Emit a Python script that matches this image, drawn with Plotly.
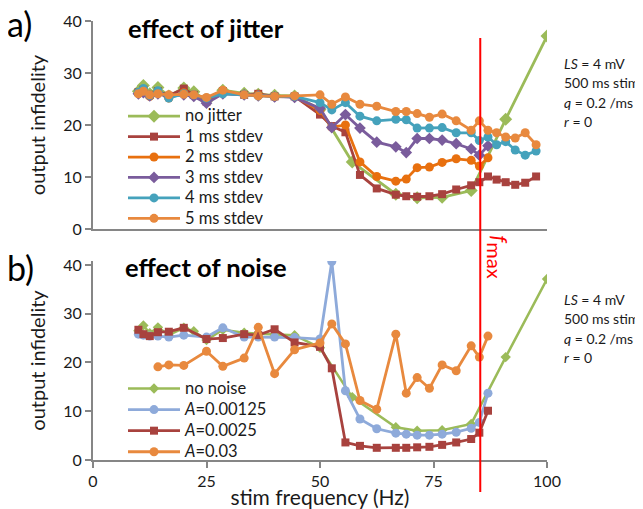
import plotly.graph_objects as go

# ---------------- data ----------------
F_LEFT = [10, 11.1, 12.5, 14.3, 16.7, 20, 22.2, 25, 28.6, 33.3, 36.4, 40, 44.4, 50]
F_RIGHT = [52.6, 55.6, 58.8, 62.5, 66.7, 69.0, 71.4, 74.1, 76.9, 80.0, 83.3, 85.1, 87.0,
           88.9, 90.9, 93.0, 95.2, 97.6]
F_MAX = 85.3

# no jitter / no noise (shared)
F_NONE = [10, 11.1, 12.5, 14.3, 16.7, 20, 22.2, 25, 28.6, 33.3, 36.4, 40, 44.4, 50,
          57.1, 66.7, 71.4, 76.9, 83.3, 90.9, 100]
V_NONE = [26.5, 27.6, 26.0, 27.2, 25.6, 27.1, 26.4, 24.6, 26.7, 26.1, 25.9, 25.7, 25.6, 23.0,
          12.9, 6.7, 6.0, 6.1, 7.4, 21.1, 37.1]

# jitter series
F_J1 = F_LEFT + F_RIGHT
V_J1 = [26.3, 26.8, 25.8, 26.5, 25.6, 27.0, 25.8, 24.5, 26.5, 25.8, 26.0, 25.5, 25.5, 22.0,
        19.8, 18.6, 10.4, 7.8, 6.6, 6.3, 6.2, 6.3, 6.7, 7.6, 8.4, 9.0, 10.1, 9.5, 9.0, 8.5, 8.9, 10.1]
F_J2 = F_LEFT + F_RIGHT[:13]
V_J2 = [26.2, 26.5, 25.5, 26.3, 25.2, 26.2, 25.8, 24.8, 26.2, 25.8, 25.8, 25.4, 25.5, 22.8,
        19.6, 20.0, 12.9, 10.1, 9.2, 9.6, 11.8, 11.9, 12.8, 13.5, 13.2, 12.1, 13.7]
F_J3 = F_LEFT + F_RIGHT[:13]
V_J3 = [26.0, 26.2, 25.6, 26.0, 25.5, 25.8, 25.5, 24.2, 26.0, 25.8, 25.6, 25.4, 25.3, 23.2,
        19.5, 22.0, 19.4, 16.7, 15.8, 14.7, 17.4, 17.4, 17.1, 16.4, 15.4, 14.2, 16.0]
F_J4 = F_LEFT + F_RIGHT
V_J4 = [26.3, 27.0, 25.7, 26.6, 25.2, 26.0, 25.8, 25.2, 26.0, 25.8, 25.6, 25.5, 25.5, 24.3,
        22.9, 24.3, 21.7, 20.8, 21.1, 21.0, 19.4, 19.4, 19.5, 18.5, 18.5, 17.0, 17.7, 16.2, 16.8,
        15.2, 14.2, 15.0]
F_J5 = F_LEFT + F_RIGHT
V_J5 = [26.0, 26.5, 25.8, 26.0, 25.8, 25.9, 25.8, 25.3, 26.7, 25.8, 25.6, 25.5, 25.6, 25.8,
        24.0, 25.4, 24.0, 23.6, 22.6, 22.6, 22.2, 21.5, 22.1, 20.8, 19.0, 20.8, 19.0, 18.5, 17.7,
        17.5, 18.5, 16.2]

# noise series
F_A1 = [10, 11.1, 12.5, 14.3, 16.7, 20, 25, 28.6, 33.3, 36.4, 40, 44.4, 50] + F_RIGHT[:13]
V_A1 = [25.8, 25.6, 25.4, 25.4, 25.2, 25.6, 25.2, 27.1, 25.2, 25.2, 25.2, 25.1, 24.8,
        40.7, 14.2, 8.4, 6.4, 5.5, 5.3, 5.1, 5.1, 5.3, 5.7, 6.5, 7.7, 13.7]
F_A2 = [10, 11.1, 12.5, 14.3, 16.7, 20, 25, 28.6, 33.3, 36.4, 40, 44.4, 50] + F_RIGHT[:13]
V_A2 = [26.7, 25.8, 25.4, 26.2, 26.3, 27.1, 24.8, 25.0, 25.8, 25.6, 26.8, 24.1, 23.2,
        18.8, 3.6, 2.9, 2.5, 2.5, 2.5, 2.6, 2.7, 3.1, 3.6, 4.3, 5.6, 10.1]
F_A3 = [14.3, 16.7, 20, 25, 28.6, 33.3, 36.4, 40, 44.4, 50] + F_RIGHT[:13]
V_A3 = [19.1, 19.5, 19.4, 22.3, 19.2, 20.9, 27.2, 17.7, 22.6, 24.0,
        27.9, 23.8, 12.2, 10.4, 25.8, 13.7, 16.9, 14.7, 19.5, 18.3, 23.4, 21.1, 25.4]

X_TICKS = [0, 25, 50, 75, 100]
Y_TICKS = [0, 10, 20, 30, 40]
PARAM_LINES = ["<i>LS</i> = 4 mV", "500 ms stim", "<i>q</i> = 0.2 /ms", "<i>r</i> = 0"]

# ---------------- layout helpers ----------------
# the page body has an 8px margin, so the figure is drawn 8px in from the window corner
OFF = 8
W, H = 643 - OFF, 509 - OFF
ML, MR, MT, MB = 93 - OFF, 96, 21 - OFF, 49
PW, PH = W - ML - MR, H - MT - MB


def px(xs):
    """window x pixel -> paper x"""
    return (xs - OFF - ML) / PW


def py(ys):
    """window y pixel -> paper y"""
    return (H - MB - (ys - OFF)) / PH


FONT = "Lato"
GREY = "#868686"
TXT = "#1a1a1a"
LEG_TXT = 16.5

fig = go.Figure()


def add(x, y, name, color, symbol, size, xa, ya, legend, width=2.8):
    fig.add_trace(go.Scatter(
        x=x, y=y, mode="lines+markers", xaxis=xa, yaxis=ya, legend=legend,
        name='<span style="font-size:%spx">%s</span>' % (LEG_TXT, name),
        line=dict(color=color, width=width),
        marker=dict(color=color, symbol=symbol, size=size),
    ))


GREEN = "#9BBB59"
RED = "#A8423E"
ORANGE = "#E8700F"
PURPLE = "#7A5C9C"
TEAL = "#45A2BC"
LORANGE = "#E8893E"
BLUE = "#8EAADA"

add(F_NONE, V_NONE, "no jitter", GREEN, "diamond", 10, "x", "y", "legend")
add(F_J1, V_J1, "1 ms stdev", RED, "square", 8, "x", "y", "legend")
add(F_J2, V_J2, "2 ms stdev", ORANGE, "circle", 9, "x", "y", "legend")
add(F_J3, V_J3, "3 ms stdev", PURPLE, "diamond", 9, "x", "y", "legend")
add(F_J4, V_J4, "4 ms stdev", TEAL, "circle", 9, "x", "y", "legend")
add(F_J5, V_J5, "5 ms stdev", LORANGE, "circle", 9, "x", "y", "legend")

add(F_NONE, V_NONE, "no noise", GREEN, "diamond", 8, "x2", "y2", "legend2", 2.5)
add(F_A1, V_A1, "<i>A</i>=0.00125", BLUE, "circle", 9, "x2", "y2", "legend2")
add(F_A2, V_A2, "<i>A</i>=0.0025", RED, "square", 8, "x2", "y2", "legend2")
add(F_A3, V_A3, "<i>A</i>=0.03", LORANGE, "circle", 9, "x2", "y2", "legend2")

axis_common = dict(showgrid=False, zeroline=False, showline=True, linecolor=GREY, linewidth=2,
                   automargin=False,
                   tickfont=dict(family=FONT, size=16, color=TXT), tickcolor=GREY, tickwidth=1.5)
ytitle = dict(text="output infidelity", font=dict(family=FONT, size=20, color=TXT), standoff=12)

fig.update_layout(
    width=W, height=H, autosize=False,
    margin=dict(l=ML, r=MR, t=MT, b=MB),
    paper_bgcolor="white", plot_bgcolor="white",
    xaxis=dict(domain=[0, 1], anchor="y", range=[0, 100], showticklabels=False, ticks="",
               **axis_common),
    yaxis=dict(domain=[py(229), py(21)], anchor="x", range=[0, 40], tickvals=Y_TICKS,
               ticks="outside", ticklen=6, title=ytitle, **axis_common),
    xaxis2=dict(domain=[0, 1], anchor="y2", range=[0, 100], tickvals=X_TICKS, ticks="outside",
                ticklen=6, title=dict(text="stim frequency (Hz)",
                                      font=dict(family=FONT, size=21, color=TXT), standoff=5),
                **axis_common),
    yaxis2=dict(domain=[py(460), py(261)], anchor="x2", range=[0, 40.8], tickvals=Y_TICKS,
                ticks="outside", ticklen=6, title=ytitle, **axis_common),
    legend=dict(x=px(123), y=py(101), xanchor="left", yanchor="top", itemwidth=52,
                font=dict(family=FONT, size=13.4, color=TXT), bgcolor="rgba(0,0,0,0)",
                tracegroupgap=0),
    legend2=dict(x=px(123), y=py(373), xanchor="left", yanchor="top", itemwidth=52,
                 font=dict(family=FONT, size=13.9, color=TXT), bgcolor="rgba(0,0,0,0)",
                 tracegroupgap=0),
    showlegend=True,
)

# f_max line
fig.add_shape(type="line", xref="x2", yref="paper", x0=F_MAX, x1=F_MAX,
              y0=py(492), y1=py(38), line=dict(color="#FF0000", width=2))

ann = []
ann.append(dict(text='<i>f</i><sub><span style="font-size:20px">max</span></sub>',
                xref="x2", yref="paper", x=F_MAX, y=py(257),
                xanchor="left", yanchor="middle", xshift=1, textangle=90, showarrow=False,
                font=dict(family=FONT, size=22, color="#FF0000")))
ann.append(dict(text="a)", xref="paper", yref="paper", x=px(5), y=py(24), xanchor="left",
                yanchor="middle", showarrow=False, font=dict(family=FONT, size=34, color="black")))
ann.append(dict(text="b)", xref="paper", yref="paper", x=px(5), y=py(267), xanchor="left",
                yanchor="middle", showarrow=False, font=dict(family=FONT, size=34, color="black")))
ann.append(dict(text="<b>effect of jitter</b>", xref="paper", yref="paper", x=px(126), y=py(28),
                xanchor="left", yanchor="middle", showarrow=False,
                font=dict(family=FONT, size=25.5, color="black")))
ann.append(dict(text="<b>effect of noise</b>", xref="paper", yref="paper", x=px(123), y=py(267),
                xanchor="left", yanchor="middle", showarrow=False,
                font=dict(family=FONT, size=25.5, color="black")))
for top in (63, 299):
    for i, line in enumerate(PARAM_LINES):
        ann.append(dict(text=line, xref="paper", yref="paper", x=px(562), y=py(top + 19.5 * i),
                        xanchor="left", yanchor="middle", showarrow=False,
                        font=dict(family=FONT, size=14, color=TXT)))
fig.update_layout(annotations=ann)

fig.write_html("out.html")
